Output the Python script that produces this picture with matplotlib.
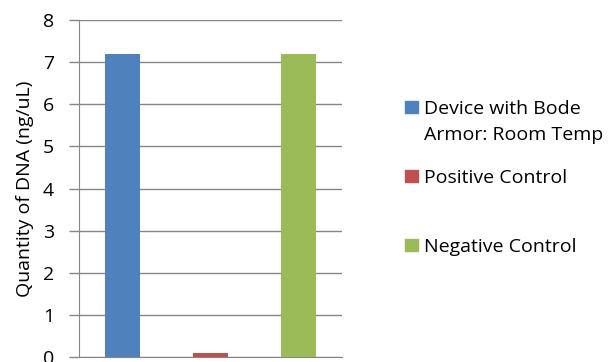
import matplotlib
matplotlib.use("Agg")
import matplotlib.pyplot as plt
from matplotlib.patches import Rectangle

categories = ["Device with Bode\nArmor: Room Temp", "Positive Control", "Negative Control"]
values = [7.2, 0.1, 7.2]
colors = ["#4F81BD", "#C0504D", "#9BBB59"]
yticks = [0, 1, 2, 3, 4, 5, 6, 7, 8]

plt.rcParams['font.family'] = ['Open Sans', 'DejaVu Sans']
grid_c = "#868686"
fs = 14

fig = plt.figure(figsize=(6.13, 3.62), dpi=100)
ax = fig.add_axes([79/613, 1-357/362, (342-79)/613, (357-20)/362])
ax.bar(range(len(values)), values, width=0.4, color=colors, zorder=3)
ax.set_xlim(-0.5, 2.5)
ax.set_ylim(0, 8)
ax.set_yticks(yticks)
ax.set_yticklabels([str(t) for t in yticks], fontsize=fs, color="#000000")
ax.set_xticks([])
ax.yaxis.grid(True, color=grid_c, linewidth=1, zorder=0)
ax.tick_params(axis='y', length=7, color=grid_c, width=1, pad=11)
for s in ["top", "right"]:
    ax.spines[s].set_visible(False)
ax.spines["left"].set_color(grid_c)
ax.spines["bottom"].set_color(grid_c)
ax.set_ylabel("Quantity of DNA (ng/uL)", fontsize=fs, labelpad=6)

# legend (manual, to match spacing)
leg_items = [(categories[0], 107), (categories[1], 176), (categories[2], 245)]
for (lab, ypx), c in zip(leg_items, colors):
    fig.patches.append(Rectangle((405/613, 1-(ypx+6)/362), 13/613, 12/362,
                                 transform=fig.transFigure, color=c, figure=fig))
    lines = lab.split("\n")
    for i, ln in enumerate(lines):
        fig.text(424/613, 1-(ypx + 26*i)/362, ln, fontsize=fs, va='center_baseline',
                 ha='left')

fig.savefig("out.png", dpi=100)
